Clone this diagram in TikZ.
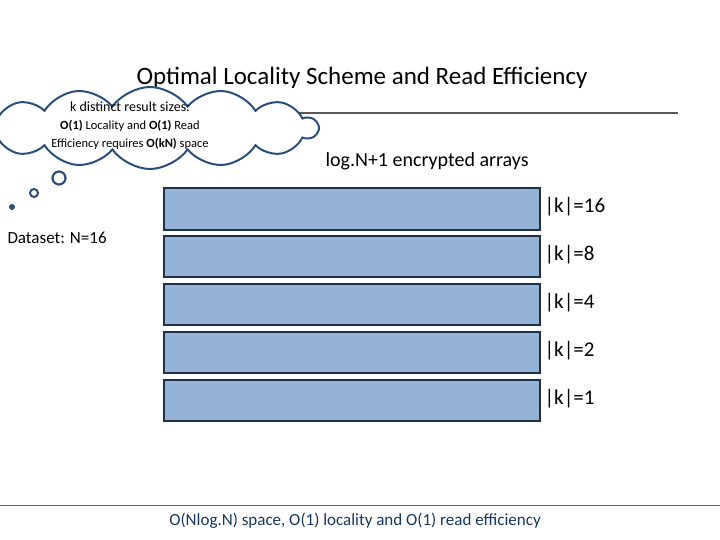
\documentclass[tikz,border=0pt]{standalone}
\usepackage{fontspec}
\setmainfont{Carlito}
\usetikzlibrary{shapes.symbols}
\definecolor{bfill}{HTML}{95B3D7}
\definecolor{bdark}{HTML}{1F2F45}
\definecolor{cblue}{HTML}{2A4F7A}
\definecolor{tblue}{HTML}{17375E}
\tikzset{arr/.style={draw=bdark,line width=2.5pt,fill=bfill},
 klab/.style={anchor=west,font=\fontsize{21}{24}\selectfont},
 bub/.style={draw=cblue,line width=2pt,fill=white}}
\begin{document}
\begin{tikzpicture}[x=1pt,y=-1pt]
\useasboundingbox (0,0) rectangle (720,540);
\node (title) at (362,78) {\fontsize{25}{28}\selectfont Optimal Locality Scheme and Read Efficiency};
\coordinate (la) at (80,113); \coordinate (lb) at (678,113);
\draw[line width=2.5pt,color=black!65] (la) -- (lb);
\node[cloud,cloud puffs=14,cloud puff arc=110,aspect=4.5,bub,minimum width=335,minimum height=82,inner sep=0] (cl) at (150,128) {};
\node[align=center,font=\fontsize{14}{19}\selectfont] (ct) at (130,126) {k distinct result sizes:\\[-1pt]{\fontsize{12.5}{17}\selectfont\textbf{O(1)} Locality and \textbf{O(1)} Read}\\[-1pt]{\fontsize{12.5}{17}\selectfont Efficiency requires \textbf{O(kN)} space}};
\node[circle,bub,minimum size=13,inner sep=0,line width=2.2pt] (c1) at (59,178) {};
\node[circle,bub,minimum size=8,inner sep=0,line width=2pt] (c2) at (34,193) {};
\node[circle,fill=cblue,minimum size=6,inner sep=0] (c3) at (12,207) {};
\node[anchor=west,font=\fontsize{20}{24}\selectfont] (enc) at (322,161) {log.N+1 encrypted arrays};
\node[anchor=west,font=\fontsize{17}{20}\selectfont] (ds) at (4,238) {Dataset: N=16};
\foreach \i/\t/\b/\k in {1/188/230/16,2/236/277/8,3/284/325/4,4/332/373/2,5/380/421/1}{
  \draw[arr] (164,\t) rectangle (540,\b);
  \node[klab] (k\i) at (541,{(\t+\b)/2-2}) {|k|=\k};
}
\coordinate (ba) at (0,505); \coordinate (bb) at (720,505);
\draw[line width=1pt,color=black!60] (ba) -- (bb);
\node[text=tblue,font=\fontsize{17}{20}\selectfont] (bot) at (355,521) {O(Nlog.N) space, O(1) locality and O(1) read efficiency};
\end{tikzpicture}
\end{document}
